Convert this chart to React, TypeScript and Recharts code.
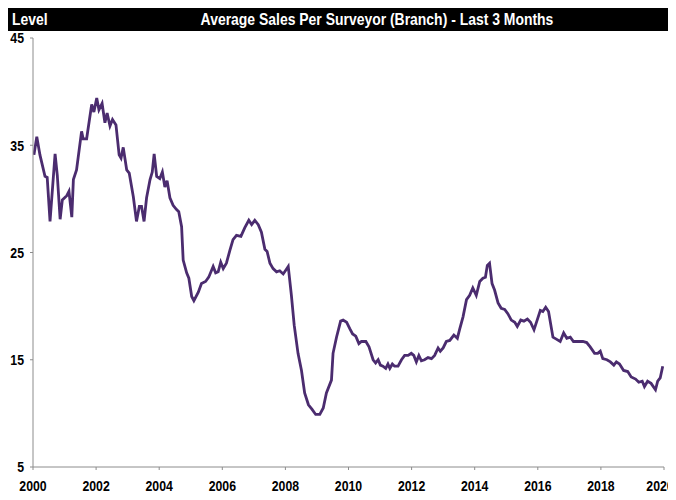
import React from 'react';
import { LineChart, Line, XAxis, YAxis } from 'recharts';

// ── Data (decimal year → level) ──────────────────────────────────────────────

const years = [
  2000.03, 2000.12, 2000.22, 2000.38, 2000.45, 2000.54, 2000.70, 2000.77, 2000.86, 2000.93,
  2001.07, 2001.14, 2001.23, 2001.28, 2001.38, 2001.54, 2001.59, 2001.70, 2001.86, 2001.93,
  2002.02, 2002.09, 2002.19, 2002.28, 2002.35, 2002.44, 2002.52, 2002.63, 2002.73, 2002.79,
  2002.86, 2002.97, 2003.05, 2003.18, 2003.28, 2003.37, 2003.44, 2003.52, 2003.60, 2003.71,
  2003.78, 2003.84, 2003.92, 2004.02, 2004.10, 2004.18, 2004.25, 2004.34, 2004.44, 2004.55,
  2004.62, 2004.71, 2004.76, 2004.87, 2004.94, 2005.03, 2005.10, 2005.24, 2005.34, 2005.47,
  2005.57, 2005.71, 2005.79, 2005.87, 2005.95, 2006.03, 2006.13, 2006.24, 2006.34, 2006.45,
  2006.59, 2006.71, 2006.84, 2006.93, 2007.03, 2007.14, 2007.24, 2007.35, 2007.42, 2007.51,
  2007.61, 2007.72, 2007.82, 2007.93, 2008.00, 2008.09, 2008.19, 2008.28, 2008.40, 2008.51,
  2008.61, 2008.73, 2008.84, 2008.96, 2009.09, 2009.20, 2009.30, 2009.46, 2009.51, 2009.62,
  2009.75, 2009.83, 2009.94, 2010.04, 2010.13, 2010.23, 2010.33, 2010.41, 2010.55, 2010.65,
  2010.78, 2010.86, 2010.94, 2011.01, 2011.09, 2011.18, 2011.25, 2011.31, 2011.39, 2011.46,
  2011.57, 2011.68, 2011.78, 2011.89, 2011.99, 2012.07, 2012.15, 2012.23, 2012.31, 2012.41,
  2012.52, 2012.63, 2012.73, 2012.84, 2012.91, 2013.00, 2013.10, 2013.21, 2013.34, 2013.45,
  2013.52, 2013.63, 2013.74, 2013.84, 2013.94, 2014.05, 2014.16, 2014.26, 2014.34, 2014.40,
  2014.47, 2014.55, 2014.63, 2014.74, 2014.84, 2014.95, 2015.05, 2015.16, 2015.27, 2015.35,
  2015.46, 2015.56, 2015.67, 2015.77, 2015.88, 2015.98, 2016.08, 2016.16, 2016.25, 2016.34,
  2016.48, 2016.60, 2016.71, 2016.82, 2016.92, 2017.03, 2017.13, 2017.27, 2017.43, 2017.55,
  2017.66, 2017.80, 2017.90, 2017.98, 2018.06, 2018.19, 2018.30, 2018.41, 2018.49, 2018.59,
  2018.72, 2018.85, 2018.96, 2019.10, 2019.20, 2019.31, 2019.38, 2019.48, 2019.59, 2019.73,
  2019.80, 2019.88, 2019.96,
];

const levels = [
  34.1, 35.8, 34.1, 32.1, 32.0, 27.9, 34.2, 32.2, 28.1, 29.9,
  30.3, 30.7, 28.3, 31.8, 32.7, 36.3, 35.6, 35.6, 38.8, 38.1,
  39.4, 38.3, 38.9, 37.1, 38.0, 36.8, 37.4, 36.9, 34.1, 33.8,
  34.8, 32.7, 32.4, 30.2, 27.9, 29.3, 29.3, 27.9, 30.1, 31.8,
  32.5, 34.2, 32.1, 31.9, 32.5, 31.1, 31.7, 30.1, 29.4, 29.0,
  28.8, 27.4, 24.3, 23.1, 22.6, 20.9, 20.5, 21.3, 22.1, 22.3,
  22.7, 23.7, 23.1, 23.2, 24.1, 23.5, 24.0, 25.2, 26.2, 26.6,
  26.5, 27.3, 28.0, 27.6, 28.0, 27.6, 26.9, 25.3, 25.1, 24.0,
  23.5, 23.2, 23.3, 23.0, 23.3, 23.7, 21.0, 18.2, 15.6, 14.0,
  11.9, 10.8, 10.4, 9.9, 9.9, 10.5, 11.9, 13.1, 15.6, 17.1,
  18.6, 18.7, 18.5, 17.9, 17.4, 17.2, 16.5, 16.7, 16.7, 16.2,
  15.0, 14.7, 15.0, 14.5, 14.4, 14.2, 14.6, 14.2, 14.6, 14.4,
  14.4, 15.0, 15.4, 15.4, 15.6, 15.4, 14.8, 15.4, 14.9, 15.0,
  15.2, 15.1, 15.4, 16.1, 15.8, 16.1, 16.7, 16.8, 17.3, 17.0,
  17.8, 19.0, 20.6, 21.0, 21.7, 21.0, 22.3, 22.6, 22.7, 23.8,
  24.0, 22.1, 21.5, 20.3, 19.8, 19.7, 19.3, 18.7, 18.5, 18.1,
  18.7, 18.6, 18.8, 18.5, 17.8, 18.7, 19.6, 19.5, 19.9, 19.5,
  17.1, 16.9, 16.7, 17.5, 17.0, 17.1, 16.7, 16.7, 16.7, 16.6,
  16.2, 15.6, 15.6, 15.8, 15.1, 15.0, 14.8, 14.5, 14.8, 14.6,
  14.0, 13.9, 13.4, 13.2, 12.9, 13.0, 12.5, 13.0, 12.8, 12.2,
  13.0, 13.3, 14.4,
];

const xTicks = [2000, 2002, 2004, 2006, 2008, 2010, 2012, 2014, 2016, 2018, 2020];
const yTicks = [5, 15, 25, 35, 45];

const TITLE = 'Average Sales Per Surveyor (Branch) - Last 3 Months';
const UNIT_LABEL = 'Level';

// No Arial Narrow offline, so squeeze Liberation Sans horizontally instead
const FONT = "'Liberation Sans', Arial, sans-serif";
const SQUEEZE = 0.82;
const LINE_COLOR = '#4b2c6f';
const AXIS_COLOR = '#8c8c8c';

const chartData = years.map((year, i) => ({ year, level: levels[i] }));

// ── Narrow tick labels ────────────────────────────────────────────────────────

const NarrowTick: React.FC<any> = ({ x, y, payload, textAnchor, dy }) => (
  <g transform={`translate(${x},${y}) scale(${SQUEEZE},1)`}>
    <text
      x={0}
      y={0}
      dy={dy}
      textAnchor={textAnchor}
      fill="#000"
      fontSize={15}
      fontWeight={700}
      fontFamily={FONT}
    >
      {payload.value}
    </text>
  </g>
);

// ── Component ─────────────────────────────────────────────────────────────────

const App: React.FC = () => {
  return (
    <div style={{ position: 'relative', width: 668, height: 492, fontFamily: FONT }}>
      {/* Black header bar with unit label and title */}
      <div
        style={{
          position: 'absolute',
          left: 0,
          top: 0,
          width: 660,
          height: 23,
          background: '#000',
          color: '#fff',
          fontWeight: 700,
          fontSize: 17,
          lineHeight: '23px',
          zIndex: 1,
        }}
      >
        <span
          style={{
            position: 'absolute',
            left: 4,
            transform: `scaleX(${SQUEEZE})`,
            transformOrigin: 'left center',
          }}
        >
          {UNIT_LABEL}
        </span>
        <span
          style={{
            position: 'absolute',
            left: 369,
            transform: `translateX(-50%) scaleX(${SQUEEZE})`,
            whiteSpace: 'nowrap',
          }}
        >
          {TITLE}
        </span>
      </div>

      <LineChart
        width={668}
        height={492}
        data={chartData}
        margin={{ top: 30, right: 12, left: 0, bottom: 8 }}
      >
        <XAxis
          dataKey="year"
          type="number"
          domain={[2000, 2020]}
          ticks={xTicks}
          allowDataOverflow
          height={25}
          stroke={AXIS_COLOR}
          tickSize={3}
          tickMargin={10}
          tick={<NarrowTick dy="0.71em" />}
        />
        <YAxis
          type="number"
          domain={[5, 45]}
          ticks={yTicks}
          width={25}
          stroke={AXIS_COLOR}
          tickSize={3}
          tickMargin={6}
          tick={<NarrowTick dy="0.355em" />}
        />
        <Line
          type="linear"
          dataKey="level"
          stroke={LINE_COLOR}
          strokeWidth={2.8}
          dot={false}
          isAnimationActive={false}
        />
      </LineChart>
    </div>
  );
};

export default App;
